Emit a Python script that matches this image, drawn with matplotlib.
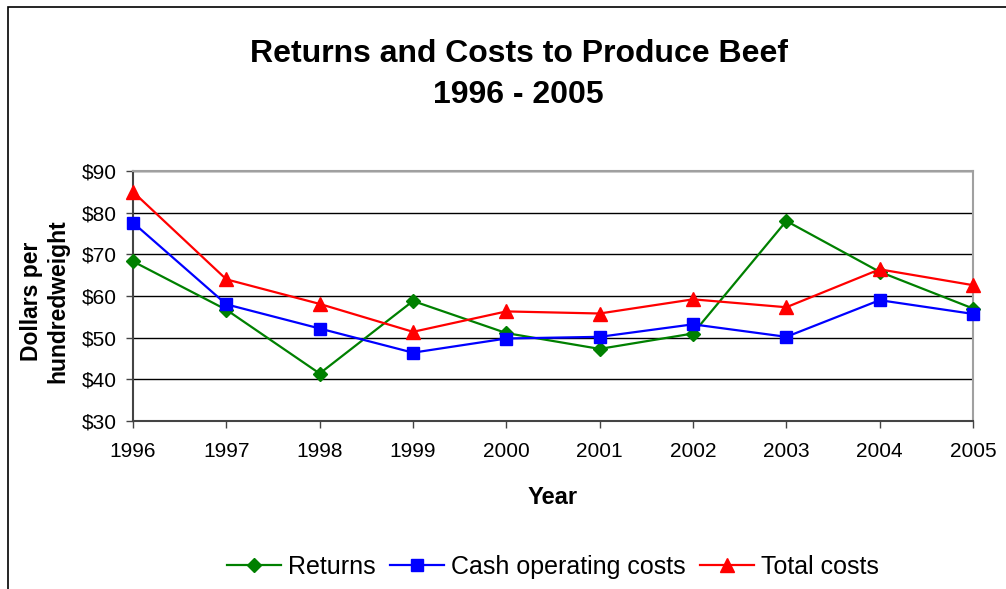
import matplotlib
matplotlib.use("Agg")
import matplotlib.pyplot as plt
from matplotlib.patches import Rectangle

plt.rcParams['font.family'] = ['Liberation Sans', 'DejaVu Sans']

years = [1996, 1997, 1998, 1999, 2000, 2001, 2002, 2003, 2004, 2005]
returns = [68.3, 56.7, 41.4, 58.8, 51.1, 47.3, 51.0, 78.0, 65.8, 57.0]
cash_costs = [77.6, 58.0, 52.2, 46.4, 49.8, 50.2, 53.2, 50.2, 59.0, 55.7]
total_costs = [85.0, 64.0, 58.1, 51.4, 56.3, 55.8, 59.2, 57.3, 66.4, 62.6]
y_ticks = [30, 40, 50, 60, 70, 80, 90]

W, H = 1006, 589
fig = plt.figure(figsize=(W / 100, H / 100), dpi=100)
fig.patch.set_facecolor('white')

def fx(px):
    return px / W

def fy(py):
    return 1 - py / H

# outer chart border (extends past right/bottom edges)
fig.add_artist(Rectangle((fx(8), -0.05), 1.1, fy(7) + 0.05, transform=fig.transFigure,
                         fill=False, edgecolor='black', linewidth=1.2))

left, right, top, bottom = 133, 973, 171, 421
ax = fig.add_axes([fx(left), fy(bottom), (right - left) / W, (bottom - top) / H])

ax.plot(years, returns, color='#008000', marker='D', markersize=7, linewidth=1.6,
        label='Returns', clip_on=False, zorder=3)
ax.plot(years, cash_costs, color='#0000FF', marker='s', markersize=8, linewidth=1.6,
        label='Cash operating costs', clip_on=False, zorder=4)
ax.plot(years, total_costs, color='#FF0000', marker='^', markersize=10, linewidth=1.6,
        label='Total costs', clip_on=False, zorder=5)

ax.set_xlim(years[0], years[-1])
ax.set_ylim(30, 90)
ax.set_xticks(years)
ax.set_xticklabels([str(y) for y in years], fontsize=15)
ax.set_yticks(y_ticks)
ax.set_yticklabels([f'${v}' for v in y_ticks], fontsize=15)
ax.grid(axis='y', color='black', linewidth=1)
ax.set_axisbelow(True)
ax.tick_params(axis='both', direction='out', length=5, width=1, color='#444444')
ax.tick_params(axis='x', pad=10)
ax.tick_params(axis='y', pad=7)

for s in ['top', 'right']:
    ax.spines[s].set_color('#A0A0A0')
    ax.spines[s].set_linewidth(1.5)
for s in ['left', 'bottom']:
    ax.spines[s].set_color('#444444')
    ax.spines[s].set_linewidth(1.5)

fig.text(fx(553), fy(504), 'Year', ha='center', va='baseline', fontsize=17, fontweight='bold')
fig.text(fx(45), fy(301), 'Dollars per\nhundredweight', ha='center', va='center',
         rotation=90, fontsize=16.5, fontweight='bold', linespacing=1.2)

fig.text(fx(518.5), fy(61.7), 'Returns and Costs to Produce Beef', ha='center', va='baseline',
         fontsize=23, fontweight='bold')
fig.text(fx(518.5), fy(103.3), '1996 - 2005', ha='center', va='baseline',
         fontsize=23, fontweight='bold')

fig.legend(loc='center', bbox_to_anchor=(fx(553), fy(567)), ncol=3, frameon=False,
           fontsize=18, handlelength=2.15, handletextpad=0.27, columnspacing=0.6,
           borderaxespad=0, borderpad=0)

fig.savefig('out.png', dpi=100, facecolor='white')
